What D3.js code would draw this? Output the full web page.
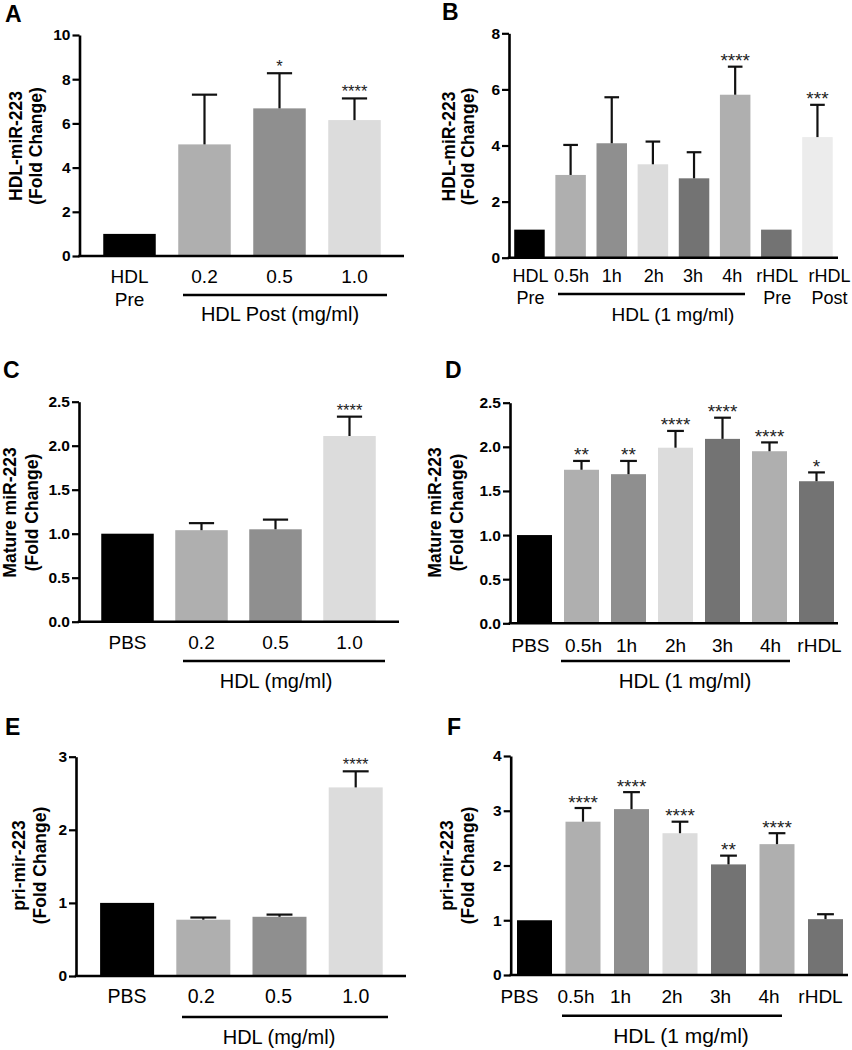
<!DOCTYPE html>
<html><head><meta charset="utf-8">
<script src="https://cdn.jsdelivr.net/npm/d3@7"></script>
<style>
body{margin:0;background:#fff}
svg{display:block}
text{font-family:"Liberation Sans",Arial,Helvetica,sans-serif;fill:#000}
</style>
</head><body>
<svg id="chart" width="852" height="1050"></svg>
<script>
// ---------------- DATA ----------------
// Panel A
const categoriesA = ["HDL\nPre", "0.2", "0.5", "1.0"];
const meansA      = [1, 5.05, 6.68, 6.15];
const errorsA     = [0, 2.25, 1.59, 0.98];
const starsA      = ["", "", "*", "****"];
const ticksA      = [0, 2, 4, 6, 8, 10];
const titleA      = ["HDL-miR-223", "(Fold Change)"];
const groupA      = "HDL Post (mg/ml)";

// Panel B
const categoriesB = ["HDL\nPre", "0.5h", "1h", "2h", "3h", "4h", "rHDL\nPre", "rHDL\nPost"];
const meansB      = [1, 2.95, 4.08, 3.33, 2.83, 5.81, 1, 4.3];
const errorsB     = [0, 1.07, 1.64, 0.81, 0.93, 1.0, 0, 1.15];
const starsB      = ["", "", "", "", "", "****", "", "***"];
const ticksB      = [0, 2, 4, 6, 8];
const titleB      = ["HDL-miR-223", "(Fold Change)"];
const groupB      = "HDL (1 mg/ml)";

// Panel C
const categoriesC = ["PBS", "0.2", "0.5", "1.0"];
const meansC      = [1, 1.04, 1.05, 2.11];
const errorsC     = [0, 0.08, 0.11, 0.22];
const starsC      = ["", "", "", "****"];
const ticksC      = [0, 0.5, 1.0, 1.5, 2.0, 2.5];
const titleC      = ["Mature miR-223", "(Fold Change)"];
const groupC      = "HDL (mg/ml)";

// Panel D
const categoriesD = ["PBS", "0.5h", "1h", "2h", "3h", "4h", "rHDL"];
const meansD      = [1, 1.74, 1.69, 1.99, 2.09, 1.95, 1.61];
const errorsD     = [0, 0.10, 0.15, 0.19, 0.24, 0.10, 0.10];
const starsD      = ["", "**", "**", "****", "****", "****", "*"];
const ticksD      = [0, 0.5, 1.0, 1.5, 2.0, 2.5];
const titleD      = ["Mature miR-223", "(Fold Change)"];
const groupD      = "HDL (1 mg/ml)";

// Panel E
const categoriesE = ["PBS", "0.2", "0.5", "1.0"];
const meansE      = [1, 0.77, 0.81, 2.58];
const errorsE     = [0, 0.03, 0.03, 0.22];
const starsE      = ["", "", "", "****"];
const ticksE      = [0, 1, 2, 3];
const titleE      = ["pri-mir-223", "(Fold Change)"];
const groupE      = "HDL (mg/ml)";

// Panel F
const categoriesF = ["PBS", "0.5h", "1h", "2h", "3h", "4h", "rHDL"];
const meansF      = [1, 2.80, 3.03, 2.59, 2.02, 2.39, 1.02];
const errorsF     = [0, 0.25, 0.31, 0.21, 0.16, 0.20, 0.09];
const starsF      = ["", "****", "****", "****", "**", "****", ""];
const ticksF      = [0, 1, 2, 3, 4];
const titleF      = ["pri-mir-223", "(Fold Change)"];
const groupF      = "HDL (1 mg/ml)";

// ---------------- STYLE / LAYOUT ----------------
const K = "#000", L = "#afafaf", M = "#8f8f8f", VL = "#dcdcdc", DK = "#737373", XL = "#ececec";
const fills4 = [K, L, M, VL];
const fills8 = [K, L, M, VL, DK, L, DK, XL];
const fills7 = [K, L, M, VL, DK, L, DK];

const panels = [
  {letter:"A", lx:5, ly:22, cats:categoriesA, means:meansA, errs:errorsA, stars:starsA, ticks:ticksA, fmt:"d",
   title:titleA, group:groupA, fills:fills4, labOff:[0,0,0,0],
   axisX:79.5, axisEnd:404, y0:256, yTop:35, bandStart:92, step:75, barW:52.5,
   labY:283, labGap:23, labFs:19, under:[183,387,295], gx:280, gy:321, gfs:20,
   tx:[22,42], ty:146, starFs:16.5},
  {letter:"B", lx:442, ly:20, cats:categoriesB, means:meansB, errs:errorsB, stars:starsB, ticks:ticksB, fmt:"d",
   title:titleB, group:groupB, fills:fills8, labOff:[1,1,0,1,-1,-3,1,12],
   axisX:509, axisEnd:838, y0:257.7, yTop:33.3, bandStart:508.9, step:41.14, barW:30.5,
   labY:282, labGap:22, labFs:18, under:[558,745,294], gx:673, gy:321, gfs:19,
   tx:[455,474], ty:146.5, starFs:19},
  {letter:"C", lx:3, ly:378, cats:categoriesC, means:meansC, errs:errorsC, stars:starsC, ticks:ticksC, fmt:".1f",
   title:titleC, group:groupC, fills:fills4, labOff:[0,0,0,0],
   axisX:79, axisEnd:399, y0:621.7, yTop:401.7, bandStart:90.5, step:74, barW:52.5,
   labY:649, labGap:22, labFs:19, under:[183,385,661], gx:276, gy:688, gfs:20,
   tx:[16,38], ty:512.5, starFs:16.5},
  {letter:"D", lx:445, ly:378, cats:categoriesD, means:meansD, errs:errorsD, stars:starsD, ticks:ticksD, fmt:".1f",
   title:titleD, group:groupD, fills:fills7, labOff:[-4,2,-2,0,0,1,3],
   axisX:510, axisEnd:838, y0:623.3, yTop:402.7, bandStart:511, step:47, barW:35,
   labY:651.5, labGap:22, labFs:19, under:[561,790,661], gx:685, gy:688, gfs:20.5,
   tx:[441,463], ty:512.5, starFs:19},
  {letter:"E", lx:5, ly:735, cats:categoriesE, means:meansE, errs:errorsE, stars:starsE, ticks:ticksE, fmt:"d",
   title:titleE, group:groupE, fills:fills4, labOff:[0,-2,-1,0],
   axisX:76, axisEnd:406, y0:976, yTop:756.7, bandStart:89, step:76.2, barW:54,
   labY:1003, labGap:22, labFs:19.5, under:[182,388,1017], gx:279, gy:1043.5, gfs:20,
   tx:[25,46], ty:865.5, starFs:16.5},
  {letter:"F", lx:447, ly:735, cats:categoriesF, means:meansF, errs:errorsF, stars:starsF, ticks:ticksF, fmt:"d",
   title:titleF, group:groupF, fills:fills7, labOff:[-15,-7,-11,-8,-8,-8,-5],
   axisX:510.7, axisEnd:848, y0:975, yTop:756, bandStart:510.25, step:48.5, barW:35,
   labY:1002.5, labGap:22, labFs:19, under:[562,782,1015.7], gx:681, gy:1043, gfs:21,
   tx:[453,474], ty:865.5, starFs:19}
];

const svg = d3.select("#chart");

panels.forEach(p => {
  const g = svg.append("g");
  const n = p.cats.length;
  const pad = 1 - p.barW / p.step;
  const x = d3.scaleBand().domain(p.cats)
    .range([p.bandStart, p.bandStart + n * p.step])
    .paddingInner(pad).paddingOuter(pad / 2);
  const yMax = d3.max(p.ticks);
  const y = d3.scaleLinear().domain([0, yMax]).range([p.y0, p.yTop]);

  // bars
  g.selectAll("rect.bar").data(p.means).join("rect")
    .attr("x", (d, i) => x(p.cats[i]))
    .attr("y", d => y(d))
    .attr("width", x.bandwidth())
    .attr("height", d => y(0) - y(d))
    .attr("fill", (d, i) => p.fills[i]);

  // error bars
  const capW = x.bandwidth() * 0.48;
  p.means.forEach((m, i) => {
    const e = p.errs[i];
    if (!e) return;
    const cx = x(p.cats[i]) + x.bandwidth() / 2;
    g.append("line").attr("x1", cx).attr("x2", cx).attr("y1", y(m)).attr("y2", y(m + e))
      .attr("stroke", "#111").attr("stroke-width", 2.2);
    g.append("line").attr("x1", cx - capW / 2).attr("x2", cx + capW / 2).attr("y1", y(m + e)).attr("y2", y(m + e))
      .attr("stroke", "#111").attr("stroke-width", 2.2);
  });

  // significance stars
  p.stars.forEach((s, i) => {
    if (!s) return;
    const cx = x(p.cats[i]) + x.bandwidth() / 2;
    const top = y(p.means[i] + p.errs[i]);
    g.append("text").attr("x", cx).attr("y", top - 10.5 + 0.58 * p.starFs)
      .attr("text-anchor", "middle").style("font-size", p.starFs + "px").style("fill", "#222")
      .text(s);
  });

  // y axis
  const yAxis = d3.axisLeft(y).tickValues(p.ticks).tickFormat(d3.format(p.fmt))
    .tickSize(7).tickSizeOuter(0).tickPadding(2);
  const ya = g.append("g").attr("transform", `translate(${p.axisX},0)`).call(yAxis);
  ya.select(".domain").attr("stroke", "#000").attr("stroke-width", 2.6);
  ya.selectAll(".tick line").attr("stroke", "#000").attr("stroke-width", 2.2);
  ya.selectAll(".tick text").style("font-size", "15.5px").style("font-weight", "bold")
    .style("font-family", '"Liberation Sans",Arial,sans-serif').attr("fill", "#000");

  // x axis baseline
  g.append("line").attr("x1", p.axisX - 1.3).attr("x2", p.axisEnd).attr("y1", y(0)).attr("y2", y(0))
    .attr("stroke", "#000").attr("stroke-width", 2.6);

  // category labels
  p.cats.forEach((c, i) => {
    const cx = x(c) + x.bandwidth() / 2 + p.labOff[i];
    const lines = c.split("\n");
    const t = g.append("text").attr("text-anchor", "middle").style("font-size", p.labFs + "px");
    lines.forEach((ln, j) => {
      t.append("tspan").attr("x", cx).attr("y", p.labY + j * p.labGap).text(ln);
    });
  });

  // group underline & label
  g.append("line").attr("x1", p.under[0]).attr("x2", p.under[1]).attr("y1", p.under[2]).attr("y2", p.under[2])
    .attr("stroke", "#000").attr("stroke-width", 2.6);
  g.append("text").attr("x", p.gx).attr("y", p.gy).attr("text-anchor", "middle")
    .style("font-size", p.gfs + "px").text(p.group);

  // y title
  p.title.forEach((t, j) => {
    g.append("text").attr("transform", `translate(${p.tx[j]},${p.ty}) rotate(-90)`)
      .attr("text-anchor", "middle").style("font-size", "17.5px").style("font-weight", "bold")
      .text(t);
  });

  // panel letter
  g.append("text").attr("x", p.lx).attr("y", p.ly).style("font-size", "23px").style("font-weight", "bold")
    .text(p.letter);
});
</script>
</body></html>
